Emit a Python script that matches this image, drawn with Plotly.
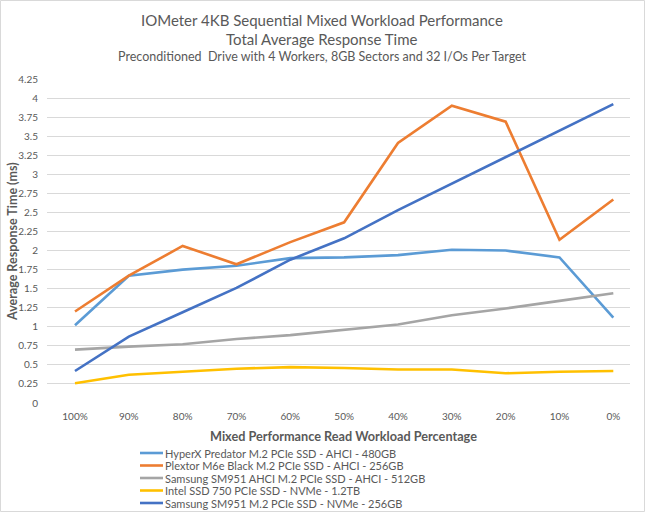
import plotly.graph_objects as go

categories = ["100%", "90%", "80%", "70%", "60%", "50%", "40%", "30%", "20%", "10%", "0%"]

series_names = [
    "HyperX Predator M.2 PCIe SSD - AHCI - 480GB",
    "Plextor M6e Black M.2 PCIe SSD - AHCI - 256GB",
    "Samsung SM951 AHCI M.2 PCIe SSD - AHCI - 512GB",
    "Intel SSD 750 PCIe SSD - NVMe - 1.2TB",
    "Samsung SM951 M.2 PCIe SSD - NVMe - 256GB",
]
hyperx = [1.02, 1.67, 1.75, 1.80, 1.90, 1.91, 1.94, 2.01, 2.00, 1.91, 1.12]
plextor = [1.20, 1.67, 2.06, 1.82, 2.11, 2.37, 3.41, 3.90, 3.69, 2.14, 2.67]
samsung_ahci = [0.70, 0.74, 0.77, 0.84, 0.89, 0.96, 1.03, 1.15, 1.24, 1.34, 1.44]
intel = [0.26, 0.37, 0.41, 0.45, 0.47, 0.46, 0.44, 0.44, 0.39, 0.41, 0.42]
samsung_nvme = [0.42, 0.87, 1.19, 1.51, 1.88, 2.16, 2.53, 2.88, 3.22, 3.58, 3.92]
series_values = [hyperx, plextor, samsung_ahci, intel, samsung_nvme]
colors = ["#5B9BD5", "#ED7D31", "#A5A5A5", "#FFC000", "#4472C4"]

y_ticks = [0, 0.25, 0.5, 0.75, 1, 1.25, 1.5, 1.75, 2, 2.25, 2.5, 2.75, 3, 3.25, 3.5, 3.75, 4, 4.25]
y_ticktext = ["0", "0.25", "0.5", "0.75", "1", "1.25", "1.5", "1.75", "2", "2.25", "2.5", "2.75",
              "3", "3.25", "3.5", "3.75", "4", "4.25"]

title_1 = "IOMeter 4KB Sequential Mixed Workload Performance"
title_2 = "Total Average Response Time"
title_3 = "Preconditioned  Drive with 4 Workers, 8GB Sectors and 32 I/Os Per Target"
x_title = "Mixed Performance Read Workload Percentage"
y_title = "Average Response Time (ms)"

W, H = 645, 512
L, R, T, B = 47, 15, 79, 109
PW, PH = W - L - R, H - T - B
FONT = "Lato"
GRAY = "#595959"


def px(x):
    return (x - L) / PW


def py(y):
    return (H - B - y) / PH


fig = go.Figure()
for name, vals, col in zip(series_names, series_values, colors):
    fig.add_trace(go.Scatter(x=categories, y=vals, mode="lines", name=name,
                             line=dict(color=col, width=2.6), showlegend=False))

annotations = [
    dict(text=title_1, x=px(322), y=py(20), font=dict(size=15, color=GRAY)),
    dict(text=title_2, x=px(322), y=py(39), font=dict(size=15, color=GRAY)),
    dict(text=title_3, x=px(322), y=py(57), font=dict(size=12.5, color=GRAY)),
    dict(text="<b>" + x_title + "</b>", x=px(343), y=py(436), font=dict(size=12.7, color=GRAY)),
    dict(text="<b>" + y_title + "</b>", x=px(12), y=py(242), textangle=-90,
         font=dict(size=12.5, color=GRAY)),
]
shapes = []
legend_rows = [453, 465.5, 478, 490.5, 503]
for name, col, yy in zip(series_names, colors, legend_rows):
    shapes.append(dict(type="line", xref="paper", yref="paper", x0=px(140), x1=px(163),
                       y0=py(yy), y1=py(yy), line=dict(color=col, width=2.6)))
    annotations.append(dict(text=name, x=px(163), y=py(yy), xanchor="left",
                            font=dict(size=11, color=GRAY)))
for a in annotations:
    a.setdefault("xanchor", "center")
    a.update(xref="paper", yref="paper", yanchor="middle", showarrow=False)

shapes.append(dict(type="rect", xref="paper", yref="paper",
                   x0=px(0.5), x1=px(644.5), y0=py(511.5), y1=py(0.5),
                   line=dict(color="#D9D9D9", width=1), fillcolor="rgba(0,0,0,0)"))

fig.update_layout(
    width=W, height=H,
    margin=dict(l=L, r=R, t=T, b=B),
    paper_bgcolor="white", plot_bgcolor="white",
    font=dict(family=FONT, color=GRAY),
    annotations=annotations, shapes=shapes,
    hovermode=False,
    xaxis=dict(type="category", range=[-0.52, 10.31], showgrid=False, zeroline=False,
               showline=False, ticks="", tickfont=dict(size=10, color=GRAY),
               ticklabelstandoff=6),
    yaxis=dict(range=[0, 4.25], tickvals=y_ticks, ticktext=y_ticktext,
               showgrid=True, gridcolor="#D9D9D9", gridwidth=1, zeroline=False,
               showline=False, ticks="", tickfont=dict(size=10, color=GRAY),
               ticklabelstandoff=8),
)

fig.write_html("out.html", config={"displayModeBar": False},
               post_script="document.body.style.margin='0';document.body.style.overflow='hidden';")
